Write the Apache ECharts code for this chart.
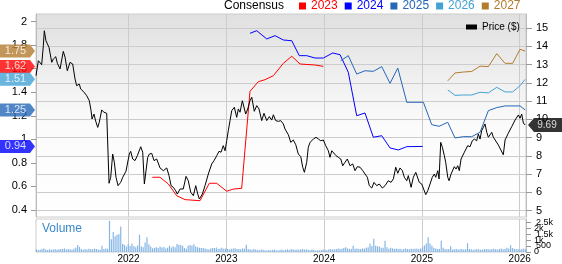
<!DOCTYPE html>
<html><head><meta charset="utf-8">
<script src="https://cdn.jsdelivr.net/npm/echarts@6/dist/echarts.min.js"></script>
<style>html,body{margin:0;padding:0;background:#fff}#c{width:562px;height:264px}</style>
</head><body><div id="c"></div>
<script>
// ---------- data ----------
const yearTicks = [2022, 2023, 2024, 2025, 2026];
const priceTicks = [5, 6, 7, 8, 9, 10, 11, 12, 13, 14, 15];
const epsTicks = [0.4, 0.6, 0.8, 1.0, 1.2, 1.4, 1.6, 1.8, 2.0];
const volumeTicksA = [0, 1000, 2000];
const volumeTicksB = [500, 1500, 2500];

const priceDates = [2021.054,2021.078,2021.095,2021.112,2021.129,2021.139,2021.156,2021.170,2021.187,2021.215,2021.231,2021.256,2021.272,2021.300,2021.333,2021.351,2021.374,2021.402,2021.429,2021.453,2021.470,2021.497,2021.511,2021.538,2021.573,2021.599,2021.617,2021.627,2021.647,2021.665,2021.685,2021.701,2021.726,2021.749,2021.777,2021.787,2021.801,2021.818,2021.838,2021.855,2021.872,2021.893,2021.920,2021.941,2021.957,2021.974,2021.992,2022.008,2022.022,2022.043,2022.066,2022.090,2022.125,2022.145,2022.162,2022.196,2022.213,2022.237,2022.261,2022.288,2022.322,2022.356,2022.391,2022.414,2022.435,2022.458,2022.483,2022.499,2022.527,2022.560,2022.588,2022.611,2022.636,2022.663,2022.687,2022.708,2022.724,2022.755,2022.782,2022.816,2022.851,2022.874,2022.902,2022.925,2022.946,2022.969,2022.987,2023.004,2023.020,2023.038,2023.055,2023.082,2023.106,2023.123,2023.140,2023.164,2023.181,2023.198,2023.219,2023.242,2023.260,2023.286,2023.311,2023.334,2023.362,2023.385,2023.413,2023.440,2023.464,2023.481,2023.505,2023.532,2023.556,2023.583,2023.600,2023.618,2023.634,2023.659,2023.685,2023.710,2023.736,2023.761,2023.781,2023.798,2023.822,2023.838,2023.856,2023.873,2023.890,2023.917,2023.941,2023.965,2023.992,2024.016,2024.043,2024.060,2024.078,2024.094,2024.122,2024.145,2024.170,2024.190,2024.214,2024.237,2024.265,2024.292,2024.316,2024.339,2024.367,2024.395,2024.418,2024.442,2024.462,2024.487,2024.510,2024.538,2024.564,2024.595,2024.623,2024.656,2024.684,2024.708,2024.732,2024.753,2024.776,2024.800,2024.820,2024.845,2024.861,2024.889,2024.912,2024.937,2024.957,2024.973,2024.998,2025.021,2025.039,2025.059,2025.083,2025.106,2025.127,2025.141,2025.162,2025.175,2025.192,2025.209,2025.229,2025.243,2025.264,2025.277,2025.298,2025.315,2025.331,2025.349,2025.366,2025.382,2025.400,2025.417,2025.434,2025.451,2025.468,2025.492,2025.515,2025.536,2025.560,2025.577,2025.594,2025.611,2025.628,2025.645,2025.663,2025.679,2025.696,2025.714,2025.730,2025.747,2025.781,2025.799,2025.832,2025.850,2025.883,2025.918,2025.952,2025.986,2026.003,2026.020,2026.037,2026.055];
const priceValues = [12.39,13.21,13.30,12.99,14.03,14.85,14.30,14.34,13.94,13.12,13.30,13.43,13.07,12.76,13.72,13.40,12.66,13.12,13.03,12.21,11.84,11.93,11.66,11.53,11.29,11.02,10.47,10.02,10.29,9.89,9.56,9.84,10.51,10.39,10.33,10.29,6.50,6.83,8.10,7.65,6.83,6.37,6.55,6.83,6.74,7.16,7.19,8.10,8.25,7.83,7.74,8.01,8.50,8.20,6.46,7.92,8.10,8.14,7.74,7.83,7.34,7.19,7.34,6.92,6.37,6.28,6.09,5.91,6.19,6.19,6.88,6.64,6.01,5.82,6.37,5.91,5.64,5.91,6.37,7.01,7.56,7.74,8.01,8.25,8.20,8.56,8.28,8.83,9.38,9.93,10.47,10.66,10.11,10.57,10.39,11.02,11.06,10.29,10.57,11.02,11.21,10.44,10.75,10.57,9.93,10.33,9.93,10.15,9.96,10.25,9.93,9.89,9.93,9.75,9.47,9.56,9.16,8.74,8.87,8.61,8.10,7.96,7.38,7.10,7.65,8.47,8.74,8.65,8.92,9.02,8.92,8.83,8.87,8.56,8.28,7.92,8.28,8.38,8.01,7.92,7.83,7.46,7.65,7.83,7.46,7.56,7.19,7.41,7.38,7.19,7.01,6.83,6.37,6.24,6.55,6.37,6.46,6.24,6.37,6.64,6.55,6.74,7.38,7.05,7.34,7.19,6.83,6.64,6.92,6.28,6.83,7.10,7.05,6.55,6.46,6.13,5.88,6.09,6.46,6.83,7.01,6.83,7.19,6.74,8.74,8.47,8.01,7.65,6.83,6.64,7.01,6.92,7.41,7.28,7.46,7.19,7.83,7.74,8.20,8.10,8.56,8.50,8.83,8.92,8.83,9.20,8.92,9.38,9.56,9.75,9.29,9.02,8.92,9.29,9.02,8.92,8.60,8.50,8.06,8.87,9.24,9.60,9.96,10.24,10.06,10.29,9.80,9.69];

const eps2023Dates = [2022.243,2022.322,2022.407,2022.493,2022.578,2022.731,2022.826,2022.902,2023.004,2023.072,2023.157,2023.242,2023.327,2023.396,2023.481,2023.583,2023.669,2023.754,2023.905,2023.992];
const eps2023 = [0.678,0.678,0.621,0.521,0.488,0.479,0.627,0.627,0.559,0.578,0.584,1.408,1.49,1.507,1.541,1.646,1.706,1.64,1.632,1.62];
const eps2024Dates = [2023.242,2023.311,2023.413,2023.498,2023.583,2023.669,2023.746,2023.822,2023.907,2023.992,2024.088,2024.163,2024.247,2024.333,2024.418,2024.503,2024.589,2024.674,2024.759,2024.845,2025.008];
const eps2024 = [1.901,1.923,1.853,1.881,1.844,1.838,1.711,1.711,1.691,1.691,1.734,1.719,1.57,1.201,1.224,1.018,1.031,0.927,0.91,0.938,0.94];
const eps2025Dates = [2024.170,2024.247,2024.333,2024.418,2024.503,2024.589,2024.674,2024.753,2024.845,2025.015,2025.100,2025.175,2025.264,2025.338,2025.423,2025.509,2025.594,2025.679,2025.765,2025.850,2026.003,2026.055];
const eps2025 = [1.668,1.711,1.555,1.583,1.578,1.618,1.476,1.606,1.315,1.315,1.125,1.111,1.145,1.012,1.023,1.023,1.06,1.244,1.27,1.284,1.284,1.25];
const eps2026Dates = [2025.264,2025.338,2025.423,2025.509,2025.594,2025.679,2025.765,2025.850,2025.928,2026.003,2026.055];
const eps2026 = [1.42,1.374,1.377,1.377,1.40,1.395,1.442,1.403,1.403,1.456,1.51];
const eps2027Dates = [2025.264,2025.338,2025.423,2025.509,2025.594,2025.679,2025.765,2025.850,2025.928,2026.003,2026.055];
const eps2027 = [1.497,1.564,1.572,1.577,1.622,1.618,1.728,1.646,1.646,1.765,1.75];

// weekly volume, first week starting 2021.058
const volumeStart = 2021.058;
const volumeValues = [
220,160,180,250,300,200,170,230,190,210,
250,180,220,260,240,300,200,260,220,190,
280,350,580,420,260,180,240,210,280,250,
230,280,250,210,180,530,250,300,280,2600,
1060,1670,1320,1450,1500,2120,660,600,450,660,
500,700,500,400,550,1450,450,400,790,1240,
650,450,320,350,400,330,460,380,420,300,
350,520,380,480,400,660,600,580,520,330,
280,520,580,520,650,450,400,350,330,330,
300,260,200,300,330,330,380,260,300,350,
280,300,250,220,280,300,320,260,240,220,
300,280,600,260,220,180,240,200,180,150,
200,180,150,120,160,140,180,200,150,130,
160,200,140,180,220,160,250,200,180,210,
180,220,250,200,230,180,150,200,170,120,
150,130,160,200,180,150,220,250,200,230,
260,300,250,280,340,400,300,260,250,530,
280,300,260,250,300,280,350,400,710,500,
1110,530,480,450,350,350,930,400,280,350,
300,250,300,250,280,200,250,300,250,230,
280,250,280,300,250,300,400,550,710,1240,
710,530,350,300,250,250,930,350,250,230,
250,480,200,220,250,200,230,250,200,220,
740,260,220,180,200,250,220,180,200,240,
260,220,200,250,280,230,200,250,300,220,
260,350,300,570,320,280,250,230,200,250,300,220];

const seriesNames = ['2023','2024','2025','2026','2027'];
const seriesColors = ['#ff0000','#0000ff','#2466b8','#44a3d5','#b27c2e'];

// ---------- chart ----------
const XMIN = 2021.054, XMAX = 2026.064;
const VMAX = 2754;
const FONT = 'Liberation Sans, Arial, sans-serif';
const zip = (a, b) => a.map((d, i) => [d, b[i]]);
const epsSets = [[eps2023Dates, eps2023],[eps2024Dates, eps2024],[eps2025Dates, eps2025],[eps2026Dates, eps2026],[eps2027Dates, eps2027]];
const weekStep = 7 / 365.25;
const volumeData = volumeValues.map((v, i) => [volumeStart + i * weekStep, v]);

const chart = echarts.init(document.getElementById('c'), null, {renderer: 'canvas'});
const gridColor = '#cccccc';
const volFmt = v => v >= 1000 ? (v / 1000) + 'k' : String(v);

const series = [];
epsSets.forEach((s, k) => {
  series.push({
    name: seriesNames[k], type: 'line', xAxisIndex: 0, yAxisIndex: 0,
    data: zip(s[0], s[1]), showSymbol: false, symbol: 'none',
    lineStyle: {color: seriesColors[k], width: 1}, itemStyle: {color: seriesColors[k]},
    z: 3, silent: true
  });
});
series.push({
  name: 'Price ($)', type: 'line', xAxisIndex: 0, yAxisIndex: 1,
  data: zip(priceDates, priceValues), showSymbol: false, symbol: 'none',
  lineStyle: {color: '#000', width: 1}, itemStyle: {color: '#000'}, z: 4, silent: true
});
series.push({
  name: 'Volume', type: 'bar', xAxisIndex: 1, yAxisIndex: 2,
  data: volumeData, barWidth: 1.2, itemStyle: {color: '#86b6e6'}, silent: true
});
// consensus badges at left
series.push({
  type: 'scatter', xAxisIndex: 0, yAxisIndex: 0, clip: false, z: 10, silent: true,
  symbol: 'path://M0,0L30,0L35,6.5L30,13L0,13Z', symbolSize: [35, 13], symbolOffset: [-18.5, 0],
  data: epsSets.map((s, k) => ({value: [XMIN, s[1][s[1].length - 1]], itemStyle: {color: seriesColors[k]}})),
  label: {show: true, position: 'inside', offset: [-2, 0], color: '#fff', fontSize: 11, fontFamily: FONT,
    formatter: p => p.value[1].toFixed(2)}
});
// price badge at right
series.push({
  type: 'scatter', xAxisIndex: 0, yAxisIndex: 1, clip: false, z: 10, silent: true,
  symbol: 'path://M0,7L6,0L34,0L34,14L6,14Z', symbolSize: [34, 14], symbolOffset: [19, 0],
  data: [{value: [XMAX, priceValues[priceValues.length - 1]], itemStyle: {color: '#000'}}],
  label: {show: true, position: 'inside', offset: [2, 0], color: '#fff', fontSize: 10, fontFamily: FONT,
    formatter: p => p.value[1].toFixed(2)}
});

chart.setOption({
  animation: false,
  textStyle: {fontFamily: FONT},
  title: {text: 'Consensus', left: 224, top: 0, padding: 0,
    textStyle: {fontSize: 12, fontWeight: 'normal', color: '#000', fontFamily: FONT}},
  legend: [
    {data: seriesNames.map((n, k) => ({name: n, textStyle: {color: seriesColors[k]}})),
     left: 299, top: 0, padding: 0, icon: 'rect', itemWidth: 7, itemHeight: 7, itemGap: 7,
     selectedMode: false, textStyle: {fontSize: 12, fontFamily: FONT}},
    {data: ['Price ($)'], left: 466, top: 22, padding: 0, icon: 'rect', itemWidth: 11, itemHeight: 5,
     selectedMode: false, textStyle: {fontSize: 10, color: '#000', fontFamily: FONT}}
  ],
  graphic: [{type: 'text', left: 42, top: 223, silent: true,
    style: {text: 'Volume', fill: '#3a88cc', fontSize: 12, fontFamily: FONT}}],
  grid: [
    {left: 36, right: 36, top: 14, height: 203, show: true, borderColor: gridColor, borderWidth: 1,
     backgroundColor: new echarts.graphic.LinearGradient(0, 0, 0, 1, [
       {offset: 0, color: '#e0e0e0'}, {offset: 0.55, color: '#fbfbfb'}, {offset: 1, color: '#ffffff'}])},
    {left: 36, right: 36, top: 219, height: 35, show: true, borderColor: gridColor, borderWidth: 1, backgroundColor: '#fff'}
  ],
  xAxis: [
    {type: 'value', gridIndex: 0, min: XMIN, max: XMAX,
     axisLine: {show: false}, axisTick: {show: false, customValues: yearTicks},
     axisLabel: {show: false, customValues: yearTicks},
     splitLine: {show: true, lineStyle: {color: gridColor, width: 1}}},
    {type: 'value', gridIndex: 1, min: XMIN, max: XMAX,
     axisLine: {show: false}, axisTick: {show: false, customValues: yearTicks},
     axisLabel: {show: true, customValues: yearTicks, margin: 2, fontSize: 10, color: '#000',
       formatter: v => String(Math.round(v))},
     splitLine: {show: true, lineStyle: {color: gridColor, width: 1}}}
  ],
  yAxis: [
    {type: 'value', gridIndex: 0, position: 'left', min: 0.3405, max: 2.065,
     axisLine: {show: true, lineStyle: {color: '#bbbbbb'}},
     axisTick: {show: true, length: 5, customValues: epsTicks, lineStyle: {color: '#999'}},
     axisLabel: {customValues: epsTicks, margin: 9, fontSize: 11, color: '#000', hideOverlap: false,
       formatter: v => String(+(+v).toFixed(1))},
     splitLine: {show: false}},
    {type: 'value', gridIndex: 0, position: 'right', min: 4.655, max: 15.766,
     axisLine: {show: true, lineStyle: {color: '#bbbbbb'}},
     axisTick: {show: true, length: 6, customValues: priceTicks, lineStyle: {color: '#999'}},
     axisLabel: {customValues: priceTicks, margin: 10, fontSize: 11, color: '#000', hideOverlap: false},
     splitLine: {show: true, lineStyle: {color: gridColor, width: 1}}},
    {type: 'value', gridIndex: 1, position: 'right', min: 0, max: VMAX,
     axisLine: {show: true, lineStyle: {color: '#bbbbbb'}},
     axisTick: {show: true, length: 5, customValues: volumeTicksA, lineStyle: {color: '#999'}},
     axisLabel: {customValues: volumeTicksA, margin: 8, fontSize: 9, color: '#000',
       hideOverlap: false, showMinLabel: true, showMaxLabel: true, formatter: volFmt},
     splitLine: {show: false}},
    {type: 'value', gridIndex: 1, position: 'right', min: 0, max: VMAX, offset: 0,
     axisLine: {show: false},
     axisTick: {show: true, length: 5, customValues: volumeTicksB, lineStyle: {color: '#999'}},
     axisLabel: {customValues: volumeTicksB, margin: 10, fontSize: 9, color: '#000',
       hideOverlap: false, showMinLabel: true, showMaxLabel: true, formatter: volFmt},
     splitLine: {show: false}}
  ],
  series: series
});
</script></body></html>
